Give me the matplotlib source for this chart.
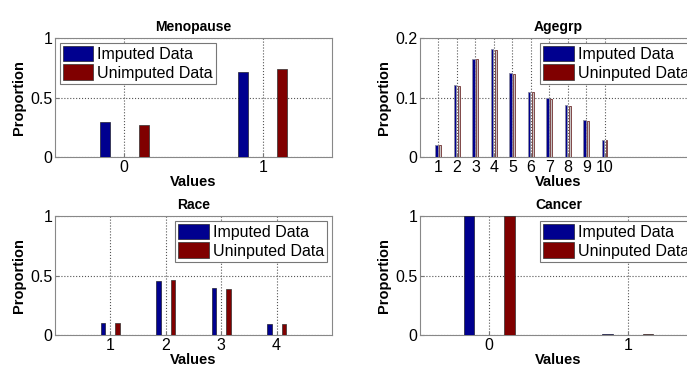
import matplotlib
matplotlib.use("Agg")
import matplotlib.pyplot as plt
from matplotlib.patches import Patch
import numpy as np

plt.rcParams["font.family"] = ["Liberation Sans", "DejaVu Sans"]

BLUE = "#00008f"
RED = "#800000"

meno_vals = [0, 1]
meno_imp = [0.296, 0.718]
meno_unimp = [0.268, 0.741]

age_vals = [1, 2, 3, 4, 5, 6, 7, 8, 9, 10]
age_imp = [0.020, 0.121, 0.164, 0.181, 0.141, 0.110, 0.099, 0.087, 0.062, 0.029]
age_unimp = [0.020, 0.120, 0.164, 0.180, 0.140, 0.110, 0.098, 0.086, 0.061, 0.029]

race_vals = [1, 2, 3, 4]
race_imp = [0.098, 0.454, 0.392, 0.092]
race_unimp = [0.098, 0.459, 0.389, 0.092]

cancer_vals = [0, 1]
cancer_imp = [1.0, 0.005]
cancer_unimp = [1.0, 0.005]

W, H = 687, 366


def make_ax(fig, left, top, width=277, height=119):
    return fig.add_axes([left / W, (H - top - height) / H, width / W, height / H])


def panel(ax, title, x, imp, unimp, off, width, xlim, ylim, yticks, leg2, loc,
          thin=False):
    x = np.asarray(x, dtype=float)
    if thin:
        # very narrow bars come out washed out in the original
        ax.bar(x - off, imp, width, color=BLUE, edgecolor="#8a8aa0",
               linewidth=0.6, zorder=3)
        ax.bar(x + off, unimp, width * 0.8, color="#c8c4c4", edgecolor="#703030",
               linewidth=0.6, zorder=3)
    else:
        ax.bar(x - off, imp, width, color=BLUE, edgecolor="#202030",
               linewidth=0.5, zorder=3)
        ax.bar(x + off, unimp, width, color=RED, edgecolor="#303030",
               linewidth=0.5, zorder=3)
    ax.set_xlim(*xlim)
    ax.set_ylim(*ylim)
    ax.set_xticks(x)
    ax.set_xticklabels([str(int(v)) for v in x])
    ax.set_yticks(yticks)
    ax.set_yticklabels([("%g" % t) for t in yticks])
    ax.grid(True, linestyle=":", color="#555555", linewidth=0.8, zorder=0)
    ax.tick_params(direction="in", length=3, labelsize=11.5, pad=2, color="#777777")
    for s in ax.spines.values():
        s.set_color("#888888")
    ax.set_title(title, fontsize=10, fontweight="bold", pad=5)
    ax.set_xlabel("Values", fontsize=10.5, fontweight="bold", labelpad=0)
    ax.set_ylabel("Proportion", fontsize=10.5, fontweight="bold", labelpad=3)
    handles = [Patch(facecolor=BLUE, edgecolor="#202030", linewidth=0.5),
               Patch(facecolor=RED, edgecolor="#303030", linewidth=0.5)]
    leg = ax.legend(handles, ["Imputed Data", leg2], loc=loc, fontsize=11.5,
                    fancybox=False, framealpha=1, edgecolor="#777777",
                    handlelength=1.9, handleheight=1.1, handletextpad=0.25,
                    borderpad=0.2, labelspacing=0.15, borderaxespad=0.3)
    leg.get_frame().set_linewidth(0.8)


fig = plt.figure(figsize=(W / 100, H / 100), dpi=100)

ax1 = make_ax(fig, 55, 38)
panel(ax1, "Menopause", meno_vals, meno_imp, meno_unimp, 0.14, 0.072,
      (-0.5, 1.5), (0, 1), [0, 0.5, 1], "Unimputed Data", "upper left")

ax2 = make_ax(fig, 420, 38)
panel(ax2, "Agegrp", age_vals, age_imp, age_unimp, 0.1, 0.13,
      (0, 15), (0, 0.2), [0, 0.1, 0.2], "Uninputed Data", "upper right",
      thin=True)

ax3 = make_ax(fig, 55, 216)
panel(ax3, "Race", race_vals, race_imp, race_unimp, 0.13, 0.08,
      (0, 5), (0, 1), [0, 0.5, 1], "Uninputed Data", "upper right")

ax4 = make_ax(fig, 420, 216)
panel(ax4, "Cancer", cancer_vals, cancer_imp, cancer_unimp, 0.145, 0.075,
      (-0.5, 1.5), (0, 1), [0, 0.5, 1], "Uninputed Data", "upper right")

fig.savefig("out.png", dpi=100)
